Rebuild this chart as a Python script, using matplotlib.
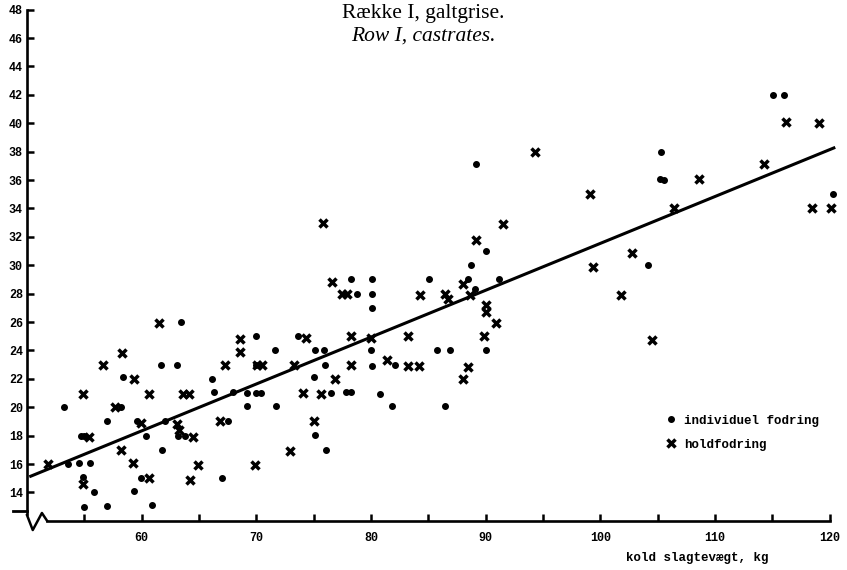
import matplotlib.pyplot as plt

# individuel fodring (punkter)
ind_x = [63.4, 61.7, 63.1, 58.4, 53.2, 58.2, 57.0, 62.0, 60.4, 54.7, 55.0, 63.2, 63.8,
         61.8, 53.6, 54.5, 55.5, 59.9, 67.0, 54.9, 55.85, 59.3, 55.0, 57.0, 60.9, 59.6,
         70.0, 70.0, 66.1, 66.3, 68.0, 69.2, 67.5, 69.2, 71.6, 73.6, 75.1, 75.9, 80.0,
         80.1, 76.0, 80.1, 82.1, 85.8, 75.0, 70.0, 70.4, 76.5, 77.8, 78.3, 80.8, 71.7,
         81.8, 75.1, 76.1, 78.3, 80.1, 85.1, 78.8, 80.1, 89.2, 90.0, 88.7, 88.5, 91.2,
         89.1, 90.0, 86.9, 86.5, 115.1, 116.0, 105.3, 105.2, 105.6, 120.3, 104.2]
ind_y = [26.0, 23.0, 23.0, 22.1, 20.0, 20.0, 19.0, 19.0, 18.0, 18.0, 18.0, 18.0, 18.0,
         17.0, 16.0, 16.1, 16.1, 15.0, 15.0, 15.1, 14.05, 14.1, 13.0, 13.05, 13.1, 19.0,
         25.0, 23.0, 22.0, 21.1, 21.1, 21.0, 19.0, 20.1, 24.0, 25.0, 24.0, 24.0, 24.0,
         27.0, 23.0, 22.9, 23.0, 24.0, 22.1, 21.0, 21.0, 21.0, 21.1, 21.1, 20.9, 20.1,
         20.1, 18.05, 17.0, 29.0, 29.0, 29.0, 28.0, 28.0, 37.1, 31.0, 30.0, 29.0, 29.0,
         28.3, 24.0, 24.0, 20.1, 42.0, 42.0, 38.0, 36.1, 36.0, 35.0, 30.0]

# holdfodring (krydser)
hold_x = [61.5, 58.3, 56.6, 59.3, 54.9, 60.6, 63.6, 64.1, 57.7, 59.9, 63.1, 63.3, 55.4,
          64.5, 58.2, 51.8, 59.25, 64.9, 69.9, 60.6, 64.2, 54.9, 68.6, 68.6, 67.3, 66.8,
          74.3, 78.3, 80.0, 83.2, 70.1, 70.5, 73.3, 78.3, 81.4, 83.2, 84.2, 76.9, 74.1,
          75.6, 75.0, 72.9, 75.8, 76.6, 77.5, 77.9, 84.3, 94.3, 91.5, 89.2, 88.0, 86.5,
          86.7, 88.6, 90.0, 90.0, 90.9, 89.9, 88.5, 88.0, 116.2, 119.1, 108.6, 114.3,
          99.1, 106.4, 118.5, 120.1, 102.8, 99.35, 101.8, 104.5]
hold_y = [25.9, 23.8, 23.0, 22.0, 20.9, 20.9, 20.9, 20.9, 20.0, 18.9, 18.8, 18.4, 17.9,
          17.9, 17.0, 16.0, 16.1, 15.9, 15.9, 15.0, 14.9, 14.6, 24.8, 23.9, 23.0, 19.0,
          24.9, 25.0, 24.9, 25.0, 23.0, 23.0, 23.0, 23.0, 23.3, 22.9, 22.9, 22.0, 21.0,
          20.9, 19.0, 16.9, 33.0, 28.8, 28.0, 28.0, 27.9, 38.0, 32.9, 31.8, 28.7, 28.0,
          27.6, 27.9, 27.2, 26.7, 25.9, 25.0, 22.8, 22.0, 40.1, 40.0, 36.05, 37.1,
          35.0, 34.0, 34.0, 34.0, 30.85, 29.9, 27.9, 24.7]

# regressionslinje
line_x = [50.2, 120.5]
line_y = [15.1, 38.3]

x_ticks = list(range(55, 121, 5))
x_labels = [str(t) if t % 10 == 0 else '' for t in x_ticks]
y_ticks = list(range(14, 49, 2))

mono = 'Liberation Mono'

fig = plt.figure(figsize=(8.47, 5.70), dpi=100)
ax = fig.add_axes([0.0319, 0.0863, 0.961, 0.9018])

ax.plot(line_x, line_y, color='black', linewidth=2.2, solid_capstyle='butt')
ax.plot(ind_x, ind_y, 'o', color='black', markersize=4, linestyle='none',
        clip_on=False, label='individuel fodring')
ax.plot(hold_x, hold_y, 'x', color='black', markersize=6, markeredgewidth=2.5,
        linestyle='none', clip_on=False, label='holdfodring')

ax.set_xlim(50, 121)
ax.set_ylim(12, 48.2)

for s in ['top', 'right']:
    ax.spines[s].set_visible(False)
ax.spines['left'].set_linewidth(1.9)
ax.spines['bottom'].set_linewidth(1.9)
ax.spines['left'].set_bounds(12.5, 48)
ax.spines['bottom'].set_bounds(51.7, 120)

ax.set_xticks(x_ticks)
ax.set_xticklabels(x_labels, fontfamily=mono, fontweight='bold', fontsize=8.5)
ax.set_yticks(y_ticks)
ax.set_yticklabels([str(t) for t in y_ticks], fontfamily=mono, fontweight='bold', fontsize=8.5)
ax.tick_params(axis='both', direction='in', length=5, width=1.8)
ax.tick_params(axis='x', pad=8)
ax.tick_params(axis='y', pad=3)

# brud paa akserne
ax.plot([48.8, 50.0], [12.7, 12.7], color='black', linewidth=2, clip_on=False)
ax.plot([50.0, 50.5, 51.3, 51.75], [12.4, 11.35, 12.55, 12.0], color='black',
        linewidth=1.8, clip_on=False)

leg = ax.legend(loc='upper left', bbox_to_anchor=(0.773, 0.228), frameon=False,
                prop={'family': mono, 'weight': 'bold', 'size': 9},
                handlelength=0.6, handletextpad=0.7, labelspacing=0.95)

fig.text(0.5, 0.977, 'Række I, galtgrise.', ha='center', va='center',
         fontfamily='Liberation Serif', fontsize=15.5)
fig.text(0.5, 0.936, 'Row I, castrates.', ha='center', va='center',
         fontfamily='Liberation Serif', fontstyle='italic', fontsize=15.5)
fig.text(0.823, 0.021, 'kold slagtevægt, kg', ha='center', va='center',
         fontfamily=mono, fontweight='bold', fontsize=9)

plt.savefig('out.png', dpi=100)
